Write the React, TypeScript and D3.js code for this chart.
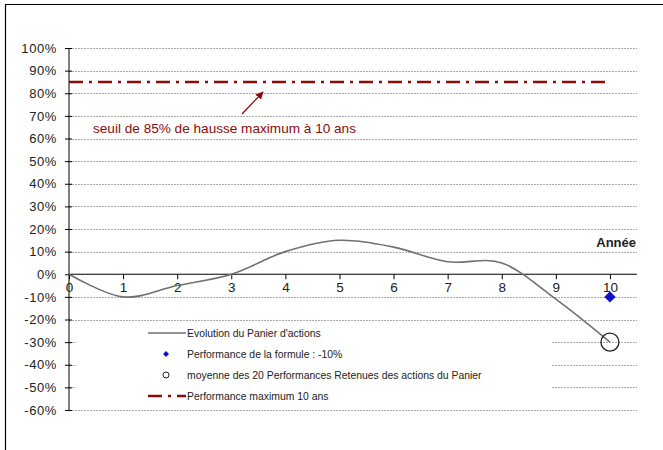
import React, { useRef, useEffect } from 'react';
import * as d3 from 'd3';

const years = [0, 1, 2, 3, 4, 5, 6, 7, 8, 9, 10];
const panierValues = [0, -10, -5, 0, 10, 15, 12, 5.5, 5, -11, -30];
const formulePoint = { year: 10, value: -10 };
const moyennePoint = { year: 10, value: -30 };
const maxSeuil = 85;
const yTicks = [100, 90, 80, 70, 60, 50, 40, 30, 20, 10, 0, -10, -20, -30, -40, -50, -60];
const legendLabels = [
  "Evolution du Panier d'actions",
  'Performance de la formule : -10%',
  'moyenne des 20 Performances Retenues des actions du Panier',
  'Performance maximum 10 ans',
];

const W = 663;
const H = 450;
const margin = { left: 69, top: 48, right: 26, bottom: 40 };
const darkRed = '#8B0A0A';

const App: React.FC = () => {
  const svgRef = useRef<SVGSVGElement | null>(null);

  useEffect(() => {
    if (!svgRef.current) return;
    const svg = d3.select(svgRef.current);
    svg.selectAll('*').remove();

    const xScale = d3.scaleLinear().domain([0, 10.5]).range([margin.left, W - margin.right]);
    const yScale = d3.scaleLinear().domain([-60, 100]).range([H - margin.bottom, margin.top]);
    const font = 'Arial, "Liberation Sans", sans-serif';

    // outer frame
    svg.append('path')
      .attr('d', `M5.5,${H} V4.5 H${W}`)
      .attr('fill', 'none')
      .attr('stroke', '#000')
      .attr('stroke-width', 1.2);

    // gridlines
    svg.append('g')
      .selectAll('line')
      .data(yTicks.filter(t => t !== 0))
      .enter()
      .append('line')
      .attr('x1', xScale(0))
      .attr('x2', xScale(10.5))
      .attr('y1', d => Math.round(yScale(d)) + 0.5)
      .attr('y2', d => Math.round(yScale(d)) + 0.5)
      .attr('stroke', '#aaa')
      .attr('stroke-width', 1)
      .attr('stroke-dasharray', '2,1');

    // y axis
    const yAxisG = svg.append('g')
      .attr('transform', `translate(${xScale(0)},0)`)
      .call(d3.axisLeft(yScale).tickValues(yTicks).tickSize(4).tickFormat(d => `${d}%`));
    yAxisG.select('.domain').attr('stroke', '#000').attr('d', `M0,${yScale(100)}V${yScale(-60)}`);
    yAxisG.selectAll('.tick line').attr('stroke', '#000').attr('x1', 3);
    yAxisG.selectAll('text')
      .attr('font-family', font)
      .attr('font-size', 13)
      .attr('letter-spacing', 0.6)
      .attr('fill', '#222')
      .attr('x', -12);

    // x axis at 0
    const xAxisG = svg.append('g')
      .attr('transform', `translate(0,${yScale(0)})`)
      .call(d3.axisBottom(xScale).tickValues(years).tickSize(5).tickFormat(d => `${d}`));
    xAxisG.select('.domain').attr('stroke', '#000').attr('stroke-width', 1.2).attr('d', `M${xScale(0)},0H${xScale(10.5)}`);
    xAxisG.selectAll('.tick line').attr('stroke', '#000');
    xAxisG.selectAll('text')
      .attr('font-family', font)
      .attr('font-size', 13.5)
      .attr('fill', '#222')
      .attr('y', 8);

    svg.append('text')
      .attr('x', xScale(10.5) - 1)
      .attr('y', yScale(0) - 27)
      .attr('text-anchor', 'end')
      .attr('font-family', font)
      .attr('font-size', 13)
      .attr('font-weight', 'bold')
      .attr('fill', '#222')
      .text('Année');

    // max line
    svg.append('line')
      .attr('x1', xScale(0))
      .attr('x2', xScale(10))
      .attr('y1', yScale(maxSeuil))
      .attr('y2', yScale(maxSeuil))
      .attr('stroke', darkRed)
      .attr('stroke-width', 2.5)
      .attr('stroke-dasharray', '14,6,3,6');

    // panier curve
    const line = d3.line<number>()
      .x((_, i) => xScale(years[i]))
      .y(d => yScale(d))
      .curve(d3.curveCardinal.tension(0));
    svg.append('path')
      .attr('d', line(panierValues))
      .attr('fill', 'none')
      .attr('stroke', '#707070')
      .attr('stroke-width', 1.6);

    // moyenne circle
    svg.append('circle')
      .attr('cx', xScale(moyennePoint.year))
      .attr('cy', yScale(moyennePoint.value))
      .attr('r', 9)
      .attr('fill', 'none')
      .attr('stroke', '#222')
      .attr('stroke-width', 1.3);

    // formule diamond
    svg.append('path')
      .attr('d', d3.symbol(d3.symbolSquare, 64)())
      .attr('transform', `translate(${xScale(formulePoint.year)},${yScale(formulePoint.value)}) rotate(45)`)
      .attr('fill', '#1010d0');

    // annotation
    svg.append('defs').append('marker')
      .attr('id', 'arrow')
      .attr('viewBox', '0 0 10 10')
      .attr('refX', 9)
      .attr('refY', 5)
      .attr('markerWidth', 6)
      .attr('markerHeight', 6)
      .attr('orient', 'auto')
      .append('path')
      .attr('d', 'M0,0 L10,5 L0,10 z')
      .attr('fill', darkRed);
    svg.append('line')
      .attr('x1', 242)
      .attr('y1', 114)
      .attr('x2', 263)
      .attr('y2', 92)
      .attr('stroke', darkRed)
      .attr('stroke-width', 1.3)
      .attr('marker-end', 'url(#arrow)');
    svg.append('text')
      .attr('x', 93)
      .attr('y', 133)
      .attr('font-family', font)
      .attr('font-size', 13.6)
      .attr('fill', darkRed)
      .text('seuil de 85% de hausse maximum à 10 ans');

    // legend
    const lg = svg.append('g');
    lg.append('rect')
      .attr('x', 76)
      .attr('y', 322)
      .attr('width', 476)
      .attr('height', 83)
      .attr('fill', '#fff');
    const rowY = [333, 354, 375, 396];
    lg.selectAll('text')
      .data(legendLabels)
      .enter()
      .append('text')
      .attr('x', 187)
      .attr('y', (_, i) => rowY[i])
      .attr('dy', '0.35em')
      .attr('font-family', font)
      .attr('font-size', 10.4)
      .attr('fill', '#222')
      .text(d => d);
    lg.append('line')
      .attr('x1', 148).attr('x2', 186)
      .attr('y1', rowY[0]).attr('y2', rowY[0])
      .attr('stroke', '#707070').attr('stroke-width', 1.6);
    lg.append('path')
      .attr('d', d3.symbol(d3.symbolSquare, 18)())
      .attr('transform', `translate(166,${rowY[1]}) rotate(45)`)
      .attr('fill', '#1010d0');
    lg.append('circle')
      .attr('cx', 166).attr('cy', rowY[2]).attr('r', 3)
      .attr('fill', 'none').attr('stroke', '#222').attr('stroke-width', 1);
    lg.append('line')
      .attr('x1', 148).attr('x2', 186)
      .attr('y1', rowY[3]).attr('y2', rowY[3])
      .attr('stroke', darkRed).attr('stroke-width', 2.5)
      .attr('stroke-dasharray', '14,6,3,6');
  }, []);

  return (
    <svg
      ref={svgRef}
      width={W}
      height={H}
      style={{ position: 'absolute', left: 0, top: 0, background: '#fff' }}
    ></svg>
  );
};

export default App;
